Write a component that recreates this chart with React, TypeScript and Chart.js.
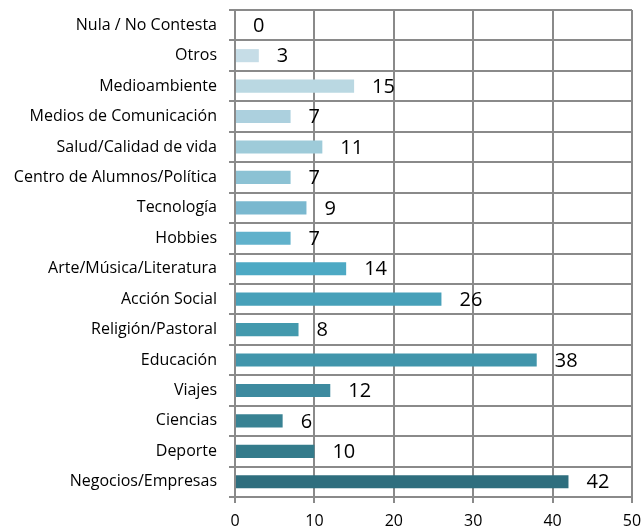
import React, { useEffect, useRef } from "react";
import { Chart, registerables } from "chart.js";

Chart.register(...registerables);

const categories = [
  "Nula / No Contesta",
  "Otros",
  "Medioambiente",
  "Medios de Comunicación",
  "Salud/Calidad de vida",
  "Centro de Alumnos/Política",
  "Tecnología",
  "Hobbies",
  "Arte/Música/Literatura",
  "Acción Social",
  "Religión/Pastoral",
  "Educación",
  "Viajes",
  "Ciencias",
  "Deporte",
  "Negocios/Empresas",
];

const values = [0, 3, 15, 7, 11, 7, 9, 7, 14, 26, 8, 38, 12, 6, 10, 42];

const barColors = [
  "#d2e6ed",
  "#c6dde7",
  "#bad8e2",
  "#acd0de",
  "#9ecbd9",
  "#8cc2d4",
  "#7ab8cf",
  "#60b1cb",
  "#4da9c4",
  "#47a0b9",
  "#4399ad",
  "#4195ab",
  "#3d8a9f",
  "#388293",
  "#347b8b",
  "#2e6e7e",
];

const xTicks = [0, 10, 20, 30, 40, 50];

const FONT = "'Open Sans', 'Noto Sans', sans-serif";

const valueLabels = {
  id: "valueLabels",
  afterDatasetsDraw(chart: any) {
    const ctx = chart.ctx;
    const meta = chart.getDatasetMeta(0);
    ctx.save();
    ctx.font = `20px ${FONT}`;
    ctx.fillStyle = "#000";
    ctx.textAlign = "left";
    ctx.textBaseline = "middle";
    meta.data.forEach((bar: any, i: number) => {
      ctx.fillText(String(values[i]), bar.x + 18, bar.y + 1);
    });
    ctx.restore();
  },
};

export default function App() {
  const ref = useRef<HTMLCanvasElement | null>(null);
  useEffect(() => {
    if (!ref.current) return;
    const chart = new Chart(ref.current, {
      type: "bar",
      data: {
        labels: categories,
        datasets: [
          {
            data: values,
            backgroundColor: barColors,
            barPercentage: 0.43,
            categoryPercentage: 1,
          },
        ],
      },
      options: {
        indexAxis: "y",
        animation: false,
        responsive: false,
        maintainAspectRatio: false,
        layout: { padding: { top: 10, right: 10, left: 0, bottom: 0 } },
        plugins: {
          legend: { display: false },
          tooltip: { enabled: false },
        },
        scales: {
          x: {
            min: 0,
            max: 50,
            afterBuildTicks: (scale: any) => {
              scale.ticks = xTicks.map((v) => ({ value: v }));
            },
            afterFit: (scale: any) => {
              scale.height = 31;
              scale.paddingLeft = 0;
              scale.paddingRight = 0;
            },
            grid: {
              color: "#8a8a8a",
              lineWidth: 2,
              tickLength: 6,
              drawTicks: true,
            },
            border: { color: "#8a8a8a", width: 2 },
            ticks: {
              color: "#000",
              font: { family: FONT, size: 16 },
              padding: 9,
              maxRotation: 0,
            },
          },
          y: {
            afterFit: (scale: any) => {
              scale.width = 235;
              scale.paddingTop = 0;
              scale.paddingBottom = 0;
            },
            grid: {
              color: "#8a8a8a",
              lineWidth: 2,
              tickLength: 6,
              offset: true,
            },
            border: { color: "#8a8a8a", width: 2 },
            ticks: {
              color: "#000",
              font: { family: FONT, size: 16 },
              padding: 12,
              autoSkip: false,
            },
          },
        },
      },
      plugins: [valueLabels],
    });
    return () => chart.destroy();
  }, []);
  return (
    <div
      style={{
        position: "absolute",
        left: 0,
        top: 0,
        width: 642,
        height: 528,
        overflow: "hidden",
        background: "#fff",
      }}
    >
      <canvas ref={ref} width={642} height={528} style={{ width: 642, height: 528 }} />
    </div>
  );
}
